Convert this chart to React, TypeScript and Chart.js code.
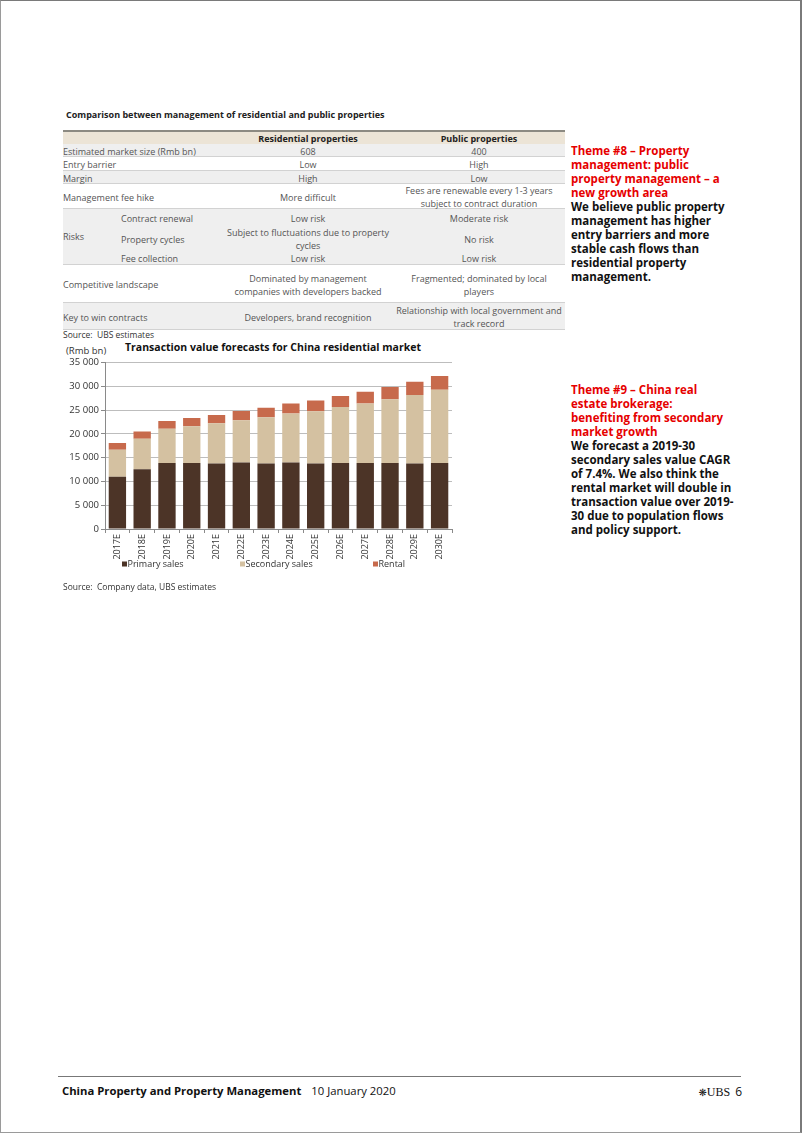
import React, { useEffect, useRef } from "react";
import { Chart, registerables } from "chart.js";

Chart.register(...registerables);

const categories = ["2017E", "2018E", "2019E", "2020E", "2021E", "2022E", "2023E", "2024E", "2025E", "2026E", "2027E", "2028E", "2029E", "2030E"];
const primarySales = [11000, 12600, 13900, 13900, 13800, 14000, 13800, 14000, 13800, 13900, 13900, 13900, 13800, 13900];
const secondarySales = [5700, 6400, 7200, 7700, 8450, 8900, 9700, 10300, 11000, 11800, 12500, 13400, 14400, 15400];
const rental = [1400, 1500, 1650, 1750, 1750, 1950, 2000, 2100, 2250, 2300, 2500, 2600, 2800, 2900];
const seriesNames = ["Primary sales", "Secondary sales", "Rental"];
const yMin = 0;
const yMax = 35000;
const yStep = 5000;

const COLORS = ["#4c3427", "#d4c1a1", "#c76a4c"];
const FONT = '"Open Sans", "Noto Sans", sans-serif';

const fixedLegend = {
  id: "fixedLegend",
  afterDraw(chart: any) {
    const ctx = chart.ctx;
    const xs = [64, 182, 315];
    const y = 209;
    ctx.save();
    ctx.font = `9px ${FONT}`;
    ctx.textBaseline = "middle";
    ctx.textAlign = "left";
    chart.data.datasets.forEach((ds: any, i: number) => {
      ctx.fillStyle = ds.backgroundColor;
      ctx.fillRect(xs[i], y - 2.5, 5, 5);
      ctx.fillStyle = "#333";
      ctx.fillText(ds.label, xs[i] + 5.5, y + 0.5);
    });
    ctx.restore();
  },
};

function BarChart() {
  const ref = useRef<HTMLCanvasElement>(null);
  useEffect(() => {
    if (!ref.current) return;
    const chart = new Chart(ref.current, {
      type: "bar",
      data: {
        labels: categories,
        datasets: [
          { label: seriesNames[0], data: primarySales, backgroundColor: COLORS[0] },
          { label: seriesNames[1], data: secondarySales, backgroundColor: COLORS[1] },
          { label: seriesNames[2], data: rental, backgroundColor: COLORS[2] },
        ],
      },
      options: {
        animation: false,
        responsive: false,
        devicePixelRatio: 1,
        datasets: { bar: { categoryPercentage: 1, barPercentage: 0.7 } },
        layout: { padding: { top: 7, right: 8, bottom: 14, left: 0 } },
        plugins: { legend: { display: false }, tooltip: { enabled: false }, title: { display: false } },
        scales: {
          x: {
            stacked: true,
            grid: { display: true, drawOnChartArea: false, offset: true, tickLength: 4, tickColor: "#8a8a8a" },
            border: { color: "#8a8a8a" },
            ticks: { minRotation: 90, maxRotation: 90, padding: 1, color: "#333", font: { family: FONT, size: 9 } },
            afterFit: (s: any) => { s.height = 40; },
          },
          y: {
            stacked: true,
            min: yMin,
            max: yMax,
            grid: { color: "#bdbdbd", tickLength: 4, tickColor: "#8a8a8a" },
            border: { color: "#8a8a8a" },
            ticks: {
              stepSize: yStep,
              padding: 2,
              color: "#333",
              font: { family: FONT, size: 9.5 },
              callback: (v: any) => String(v).replace(/\B(?=(\d{3})+(?!\d))/g, " "),
            },
            afterFit: (s: any) => { s.width = 47; },
          },
        },
      },
      plugins: [fixedLegend],
    });
    return () => chart.destroy();
  }, []);
  return <canvas ref={ref} width={402} height={228} style={{ width: 402, height: 228, display: "block" }} />;
}

const abs = (left: number, top: number, extra: React.CSSProperties = {}): React.CSSProperties => ({
  position: "absolute",
  left,
  top,
  ...extra,
});

const cellText: React.CSSProperties = {
  fontFamily: FONT,
  fontSize: 9,
  color: "#555",
  lineHeight: "13px",
};

const GRAY = "#efefef";
const LINE = "#d2d2d2";

function Row({ h, bg, label, a, b, borderTop, borderBottom, bold, dy = 1 }: any) {
  return (
    <div
      style={{
        display: "flex",
        height: h,
        background: bg || "transparent",
        borderTop: borderTop ? `1px solid ${LINE}` : undefined,
        borderBottom: borderBottom ? `1px solid ${LINE}` : undefined,
        boxSizing: "border-box",
        alignItems: "center",
        ...cellText,
        fontWeight: bold ? 700 : 400,
        color: bold ? "#222" : "#555",
      }}
    >
      <div style={{ width: 160, position: "relative", top: dy }}>{label}</div>
      <div style={{ width: 170, textAlign: "center", position: "relative", top: dy }}>{a}</div>
      <div style={{ width: 172, textAlign: "center", position: "relative", top: dy, whiteSpace: "nowrap" }}>{b}</div>
    </div>
  );
}

function ComparisonTable() {
  return (
    <div style={abs(63, 130, { width: 502 })}>
      <div style={{ height: 2, background: "#8c8a82" }} />
      <Row h={12} bg="#ece4d6" label="" a="Residential properties" b="Public properties" bold dy={0} />
      <Row h={13} bg={GRAY} label="Estimated market size (Rmb bn)" a="608" b="400" borderBottom />
      <Row h={13} label="Entry barrier" a="Low" b="High" />
      <Row h={14} bg={GRAY} label="Margin" a="High" b="Low" borderTop borderBottom />
      <Row h={24} label="Management fee hike" a="More difficult" b={<>Fees are renewable every 1-3 years<br />subject to contract duration</>} />
      <div style={{ display: "flex", background: GRAY, borderTop: `1px solid ${LINE}`, borderBottom: `1px solid ${LINE}`, height: 57, boxSizing: "border-box", ...cellText }}>
        <div style={{ width: 58, display: "flex", alignItems: "center" }}>Risks</div>
        <div style={{ width: 444, position: "relative", top: 1.5 }}>
          {[
            ["Contract renewal", "Low risk", "Moderate risk", 16],
            ["Property cycles", <>Subject to fluctuations due to property<br />cycles</>, "No risk", 25],
            ["Fee collection", "Low risk", "Low risk", 14],
          ].map((r: any, i) => (
            <div key={i} style={{ display: "flex", height: r[3], alignItems: "center" }}>
              <div style={{ width: 102 }}>{r[0]}</div>
              <div style={{ width: 170, textAlign: "center" }}>{r[1]}</div>
              <div style={{ width: 172, textAlign: "center" }}>{r[2]}</div>
            </div>
          ))}
        </div>
      </div>
      <Row h={37} label="Competitive landscape" a={<>Dominated by management<br />companies with developers backed</>} b={<>Fragmented; dominated by local<br />players</>} />
      <Row h={28} bg={GRAY} label="Key to win contracts" a="Developers, brand recognition" b={<>Relationship with local government and<br />track record</>} borderTop borderBottom />
    </div>
  );
}

const sideText: React.CSSProperties = {
  fontFamily: FONT,
  fontWeight: 700,
  fontSize: 11.5,
  lineHeight: "14px",
  color: "#111",
  whiteSpace: "nowrap",
};

function SideNote({ top, red, black }: { top: number; red: string[]; black: string[] }) {
  return (
    <div style={abs(571, top, sideText)}>
      <div style={{ color: "#e60000" }}>
        {red.map((l, i) => (
          <div key={i}>{l}</div>
        ))}
      </div>
      <div>
        {black.map((l, i) => (
          <div key={i}>{l}</div>
        ))}
      </div>
    </div>
  );
}

export default function App() {
  return (
    <div style={{ position: "absolute", left: 0, top: 0, width: 802, height: 1133, background: "#fff", overflow: "hidden" }}>
      <div style={{ position: "absolute", left: 0, top: 0, width: 802, height: 1133, boxSizing: "border-box", borderTop: "1px solid #7a7a7a", borderLeft: "1px solid #9a9a9a", borderRight: "2px solid #7a7a7a", borderBottom: "1px solid #9a9a9a" }} />

      <div style={abs(66, 108, { fontFamily: FONT, fontWeight: 700, fontSize: 9, color: "#222", whiteSpace: "nowrap" })}>
        Comparison between management of residential and public properties
      </div>
      <ComparisonTable />
      <div style={abs(63, 329, { fontFamily: FONT, fontSize: 8.5, color: "#333" })}>Source:&nbsp; UBS estimates</div>

      <div style={abs(66, 344, { fontFamily: FONT, fontSize: 9.5, color: "#333" })}>(Rmb bn)</div>
      <div style={abs(125, 340, { fontFamily: FONT, fontWeight: 700, fontSize: 10.5, color: "#111", whiteSpace: "nowrap" })}>
        Transaction value forecasts for China residential market
      </div>
      <div style={abs(58, 355)}>
        <BarChart />
      </div>
      <div style={abs(63, 581, { fontFamily: FONT, fontSize: 8.5, color: "#333" })}>Source:&nbsp; Company data, UBS estimates</div>

      <SideNote
        top={144}
        red={["Theme #8 – Property", "management: public", "property management – a", "new growth area"]}
        black={["We believe public property", "management has higher", "entry barriers and more", "stable cash flows than", "residential property", "management."]}
      />
      <SideNote
        top={383}
        red={["Theme #9 – China real", "estate brokerage:", "benefiting from secondary", "market growth"]}
        black={["We forecast a 2019-30", "secondary sales value CAGR", "of 7.4%. We also think the", "rental market will double in", "transaction value over 2019-", "30 due to population flows", "and policy support."]}
      />

      <div style={abs(58, 1076, { width: 683, height: 1, background: "#777" })} />
      <div style={abs(62, 1083, { fontFamily: FONT, fontSize: 11.3, color: "#111", whiteSpace: "nowrap" })}>
        <span style={{ fontWeight: 700 }}>China Property and Property Management</span>
        <span style={{ marginLeft: 10 }}>10 January 2020</span>
      </div>
      <div style={abs(690, 1083, { width: 52, textAlign: "right", fontSize: 12, color: "#111", whiteSpace: "nowrap" })}>
        <span style={{ fontFamily: '"DejaVu Sans"', fontSize: 10 }}>❋</span>
        <span style={{ fontFamily: '"Liberation Serif", serif' }}>UBS</span>
        <span style={{ fontFamily: FONT, marginLeft: 5 }}>6</span>
      </div>
    </div>
  );
}
